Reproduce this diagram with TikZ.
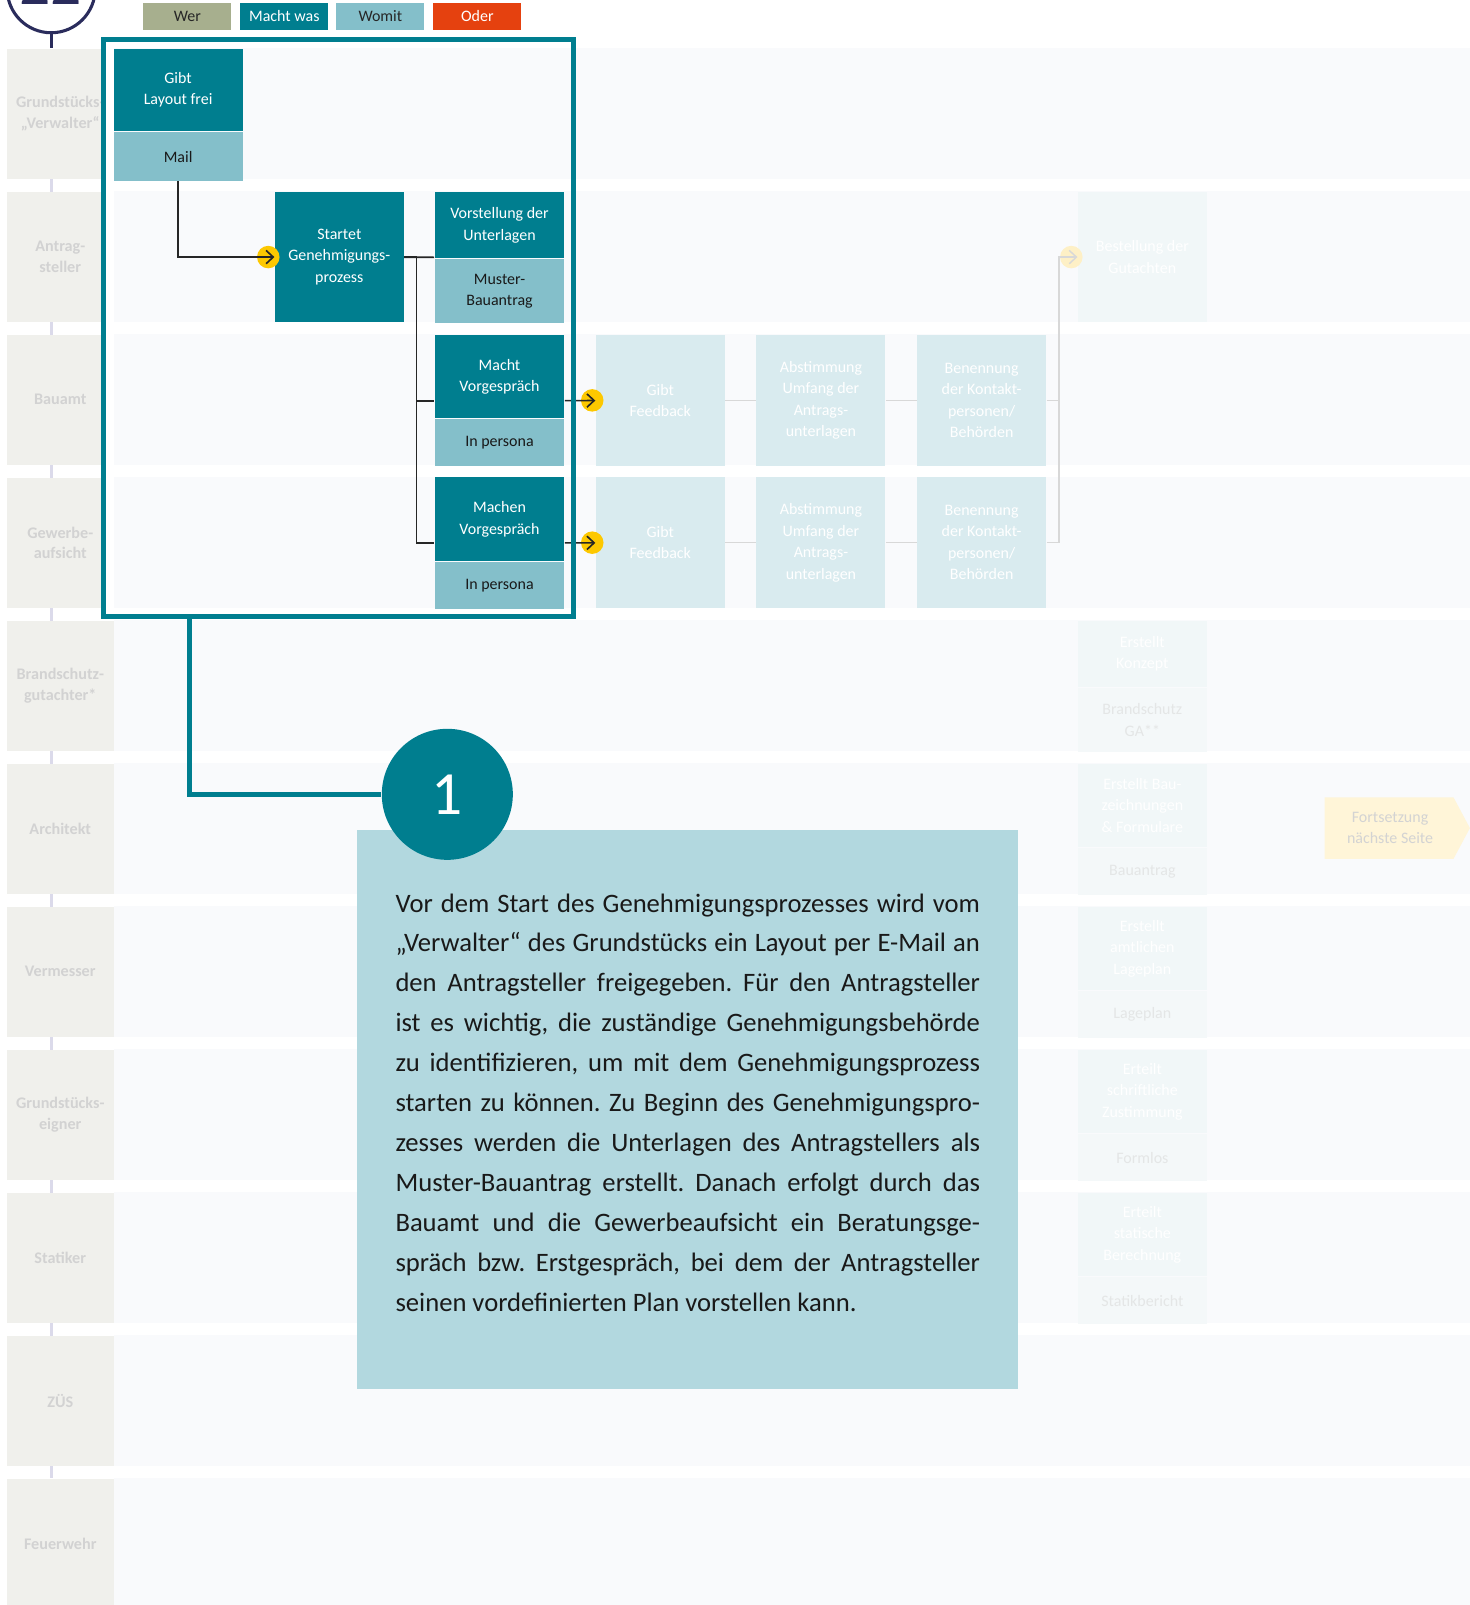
\documentclass[tikz,border=0pt]{standalone}
\usepackage{fontspec}
\setmainfont{Carlito}
\usetikzlibrary{arrows.meta,positioning,fit}

\definecolor{tealdark}{HTML}{007E8F}
\definecolor{teallight}{HTML}{84BFCA}
\definecolor{wergreen}{HTML}{A7AF8E}
\definecolor{oderred}{HTML}{E5410F}
\definecolor{lanebg}{HTML}{F9FAFC}
\definecolor{labelbg}{HTML}{F0F0EC}
\definecolor{labeltext}{HTML}{D2D2D2}
\definecolor{fadebox}{HTML}{D9EBEF}
\definecolor{faintbox}{HTML}{F1F7F8}
\definecolor{faintlow}{HTML}{F4F8F9}
\definecolor{fainttext}{HTML}{E4E6E6}
\definecolor{notebg}{HTML}{B2D8DF}
\definecolor{dotyellow}{HTML}{FDC800}
\definecolor{faintdot}{HTML}{FEF0C6}
\definecolor{navy}{HTML}{2A2C5C}
\definecolor{timeline}{HTML}{DBDAEA}
\definecolor{tagbg}{HTML}{FFF5D8}
\definecolor{tagtext}{HTML}{D3D3D3}
\definecolor{fadeline}{HTML}{D8D8D8}

\pgfdeclarelayer{back}
\pgfsetlayers{back,main}

\tikzset{
  cardtext/.style={font=\fontsize{7.8}{10.5}\selectfont},
  was/.style={cardtext,fill=tealdark,text=white,align=center,minimum width=63pt,inner sep=0pt,anchor=north},
  mit/.style={cardtext,fill=teallight,text=black!90,align=center,minimum width=63pt,inner sep=0pt},
  fadecard/.style={cardtext,fill=fadebox,text=white,align=center,minimum width=63pt,minimum height=63.75pt,inner sep=0pt,anchor=north},
  faintwas/.style={cardtext,fill=faintbox,text=white,align=center,minimum width=63pt,inner sep=0pt,anchor=north},
  faintmit/.style={cardtext,fill=faintlow,text=fainttext,align=center,minimum width=63pt,inner sep=0pt},
  cardfit/.style={inner sep=0pt},
  lanelabel/.style={font=\bfseries\fontsize{7.9}{10}\selectfont,fill=labelbg,text=labeltext,align=center,minimum width=52.5pt,minimum height=63.75pt,inner sep=0pt,anchor=north west},
  legend/.style={cardtext,minimum width=43pt,minimum height=13pt,inner sep=0pt},
  dot/.style={circle,fill=dotyellow,minimum size=11pt,inner sep=0pt},
  flow/.style={line width=0.8pt,draw=black!85},
  fadeflow/.style={line width=0.7pt,draw=fadeline},
  focusline/.style={line width=2.5pt,draw=tealdark},
  notetext/.style={anchor=base west,text width=285.5pt,align=justify,inner sep=0pt,text=black!90,font=\fontsize{13}{19.5}\selectfont\frenchspacing},
}

\begin{document}
\begin{tikzpicture}[x=0.5pt,y=-0.5pt,>={Straight Barb[length=3.5pt,width=6.5pt]}]
\useasboundingbox (0,0) rectangle (1436,1568);
\begin{pgfonlayer}{back}
\fill[white] (0,0) rectangle (1436,1568);
\end{pgfonlayer}

\foreach \who [count=\i from 0] in {{Grundstücks-\\„Verwalter“},{Antrag-\\steller},Bauamt,{Gewerbe-\\aufsicht},{Brandschutz-\\gutachter*},Architekt,Vermesser,{Grundstücks-\\eigner},Statiker,ZÜS,Feuerwehr}{
  \pgfmathsetmacro\ly{47+139.7*\i}
  \fill[lanebg] (111,\ly) rectangle (1436,\ly+127.5);
  \node[lanelabel] (lane\i) at (6,\ly) {\who};
}

\node[circle,draw=navy,line width=1.5pt,minimum size=43pt,inner sep=0pt] (badge) at (50,-11) {};
\node[anchor=base,inner sep=0pt,text=navy,font=\fontsize{30}{30}\selectfont] (badge-num) at (49,4) {22};
\draw[navy,line width=1.5pt] (badge.south) -- (badge.south |- lane0.north);
\begin{pgfonlayer}{back}
\draw[timeline,line width=1.5pt] (badge.south |- lane0.south) -- (badge.south |- lane10.north);
\end{pgfonlayer}

\node[legend,fill=wergreen,text=black!85] (wer) at (183,16) {Wer};
\node[legend,fill=tealdark,text=white,right=4pt of wer] (machtwas) {Macht was};
\node[legend,fill=teallight,text=black!85,right=3.5pt of machtwas] (womit) {Womit};
\node[legend,fill=oderred,text=white,right=4pt of womit] (oder) {Oder};

\node[was,minimum height=40.5pt] (gibt) at (174,47) {Gibt\\Layout frei};
\node[mit,minimum height=23.75pt,below=0pt of gibt] (gibt-mit) {Mail};
\node[was,minimum height=63.75pt] (startet) at (331.5,187) {Startet\\Genehmigungs-\\prozess};
\node[was,minimum height=32.5pt] (vorst) at (488,187) {Vorstellung der\\Unterlagen};
\node[mit,minimum height=31.25pt,below=0pt of vorst] (vorst-mit) {Muster-\\Bauantrag};
\node[was,minimum height=40.5pt] (macht) at (488,327) {Macht\\Vorgespräch};
\node[mit,minimum height=23.25pt,below=0pt of macht] (macht-mit) {In persona};
\node[was,minimum height=41pt] (machen) at (488,466) {Machen\\Vorgespräch};
\node[mit,minimum height=22.75pt,below=0pt of machen] (machen-mit) {In persona};
\node[cardfit,fit=(vorst)(vorst-mit)] (vorst-card) {};
\node[cardfit,fit=(macht)(macht-mit)] (macht-card) {};
\node[cardfit,fit=(machen)(machen-mit)] (machen-card) {};

\node[fadecard] (fb1) at (645,327) {Gibt\\Feedback};
\node[fadecard] (ab1) at (802,327) {Abstimmung\\Umfang der\\Antrags-\\unterlagen};
\node[fadecard] (be1) at (959,327) {Benennung\\der Kontakt-\\personen/\\Behörden};
\node[fadecard] (fb2) at (645,466) {Gibt\\Feedback};
\node[fadecard] (ab2) at (802,466) {Abstimmung\\Umfang der\\Antrags-\\unterlagen};
\node[fadecard] (be2) at (959,466) {Benennung\\der Kontakt-\\personen/\\Behörden};
\node[faintwas,minimum height=63.75pt] (bestell) at (1116,187) {Bestellung der\\Gutachten};

\foreach \i/\wastxt/\uph/\mittxt in {4/{Erstellt\\Konzept}/65/{Brandschutz\\GA**},5/{Erstellt Bau-\\zeichnungen\\\& Formulare}/82/Bauantrag,6/{Erstellt\\amtlichen\\Lageplan}/82/Lageplan,7/{Erteilt\\schriftliche\\Zustimmung}/82/Formlos,8/{Erteilt\\statische\\Berechnung}/82/Statikbericht}{
  \pgfmathsetmacro\ly{47+139.7*\i}
  \pgfmathsetmacro\hup{\uph/2}
  \pgfmathsetmacro\hlow{(127.5-\uph)/2}
  \node[faintwas,minimum height=\hup pt] (far\i) at (1116,\ly) {\wastxt};
  \node[faintmit,minimum height=\hlow pt,below=0pt of far\i] (far\i-mit) {\mittxt};
}

\fill[tagbg] (1294,779) -- (1420,779) -- (1436,809) -- (1420,839) -- (1294,839) -- cycle;
\node[cardtext,text=tagtext,align=center] (weiter) at (1358,809) {Fortsetzung\\nächste Seite};

\node[dot] at ([xshift=-3pt]startet.west) {};
\draw[flow,->] (gibt-mit) |- (startet);
\draw[flow] (startet) -- (vorst-card);
\draw[flow] (startet.east) -- ++(12,0) |- (macht-card);
\draw[flow] (startet.east) ++(12,0) |- (machen-card);
\node[dot] at ([xshift=-1.5pt]fb1.west) {};
\node[dot] at ([xshift=-1.5pt]fb2.west) {};
\draw[flow,->] (macht-card) -- (fb1);
\draw[flow,->] (machen-card) -- (fb2);

\draw[fadeflow] (fb1) -- (ab1) -- (be1);
\draw[fadeflow] (fb2) -- (ab2) -- (be2);
\node[dot,fill=faintdot] at ([xshift=-3pt]bestell.west) {};
\draw[fadeflow,->] (be2.east) -- ++(12,0) |- (bestell);
\draw[fadeflow] (be1.east) -- ++(12,0);

\fill[white] (101.5,38.5) rectangle (111,602.5);
\node[draw=tealdark,line width=2.5pt,minimum width=229.5pt,minimum height=282pt,inner sep=0pt] (focus) at (331,320.5) {};

\node[fill=notebg,minimum width=323pt,minimum height=273.5pt,anchor=north west,inner sep=0pt] (note) at (348,810) {};
\node[notetext] (story) at (386,891) {Vor dem Start des Genehmigungsprozesses wird vom\linebreak „Verwalter“ des Grundstücks ein Layout per E-Mail an\linebreak den Antragsteller freigegeben. Für den Antragsteller\linebreak ist es wichtig, die zuständige Genehmigungsbehörde\linebreak zu identifizieren, um mit dem Genehmigungsprozess\linebreak starten zu können. Zu Beginn des Genehmigungspro-\linebreak zesses werden die Unterlagen des Antragstellers als\linebreak Muster-Bauantrag erstellt. Danach erfolgt durch das\linebreak Bauamt und die Gewerbeaufsicht ein Beratungsge-\linebreak spräch bzw. Erstgespräch, bei dem der Antragsteller\linebreak seinen vordefinierten Plan vorstellen kann.};
\node[circle,fill=tealdark,minimum size=64pt,inner sep=0pt,text=white,font=\fontsize{30}{30}\selectfont] (num) at (437,776) {1};
\draw[focusline] (focus.south west) ++(86.5,0) |- (num);
\end{tikzpicture}
\end{document}
